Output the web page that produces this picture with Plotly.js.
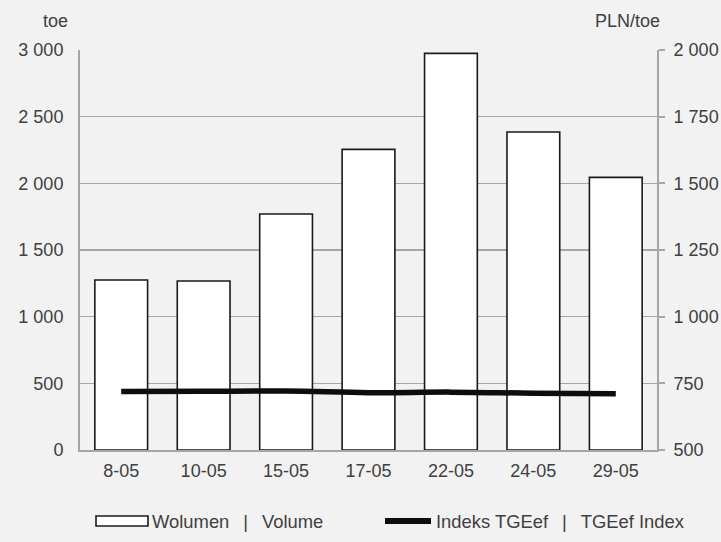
<!DOCTYPE html>
<html>
<head>
<meta charset="utf-8">
<script src="https://cdn.plot.ly/plotly-3.0.1.min.js"></script>
<style>html,body{margin:0;padding:0;background:#f2f2f2;}#chart{width:721px;height:542px;}</style>
</head>
<body>
<div id="chart"></div>
<script>
const categories = ["8-05", "10-05", "15-05", "17-05", "22-05", "24-05", "29-05"];
const volume = [1275, 1267, 1770, 2255, 2975, 2385, 2045];
const indexTGEef = [719, 720, 721, 715, 717, 713, 711];
const leftTicks = [0, 500, 1000, 1500, 2000, 2500, 3000];
const rightTicks = [500, 750, 1000, 1250, 1500, 1750, 2000];
const volumeName = "Wolumen\u00a0\u00a0\u2009|\u00a0\u00a0\u2009Volume";
const indexName = "Indeks TGEef\u00a0\u00a0\u2009|\u00a0\u00a0\u2009TGEef Index";

const font = {family: "Liberation Sans, Arial, sans-serif", size: 18, color: "#404040"};
const legendFont = {family: "Liberation Sans, Arial, sans-serif", size: 18.4, color: "#404040"};

const traces = [
  {
    type: "bar", x: categories, y: volume, name: volumeName,
    marker: {color: "#ffffff", line: {color: "#1a1a1a", width: 1.6}},
    yaxis: "y", hoverinfo: "none", showlegend: false
  },
  {
    type: "scatter", mode: "lines", x: categories, y: indexTGEef, name: indexName,
    line: {color: "#0d0d0d", width: 5.5, shape: "spline"},
    yaxis: "y2", hoverinfo: "none", showlegend: false
  }
];

// legend drawn in paper coordinates (plot area: x 80..657, y 50..450)
const px = v => (v - 80) / 577;
const py = v => (450 - v) / 400;

const layout = {
  width: 721, height: 542,
  paper_bgcolor: "#f2f2f2", plot_bgcolor: "#f2f2f2",
  font: font,
  separators: ", ",
  margin: {l: 80, r: 64, t: 50, b: 92},
  bargap: 0.36,
  showlegend: false,
  xaxis: {
    type: "category", showgrid: false, zeroline: false,
    showline: true, linecolor: "#a6a6a6", linewidth: 2,
    ticks: "", tickfont: font, ticklabelstandoff: 3
  },
  yaxis: {
    range: [0, 3000], tickvals: leftTicks, tickformat: ",d",
    showgrid: true, gridcolor: "#a6a6a6", gridwidth: 1.5,
    zeroline: false, showline: true, linecolor: "#a6a6a6", linewidth: 2,
    ticks: "", tickfont: font, ticklabelstandoff: 11
  },
  yaxis2: {
    overlaying: "y", side: "right",
    range: [500, 2000], tickvals: rightTicks, tickformat: ",d",
    showgrid: false, zeroline: false, showline: true, linecolor: "#a6a6a6", linewidth: 2,
    ticks: "outside", ticklen: 6, tickcolor: "#a6a6a6", tickwidth: 2,
    tickfont: font, ticklabelstandoff: 5
  },
  shapes: [
    {type: "rect", xref: "paper", yref: "paper", x0: px(96), x1: px(148), y0: py(526), y1: py(516),
     fillcolor: "#ffffff", line: {color: "#1a1a1a", width: 1.6}},
    {type: "line", xref: "paper", yref: "paper", x0: px(385), x1: px(431), y0: py(521), y1: py(521),
     line: {color: "#0d0d0d", width: 6}}
  ],
  annotations: [
    {text: "toe", xref: "paper", yref: "paper", x: px(55), y: py(21), xanchor: "center", yanchor: "middle", showarrow: false, font: font},
    {text: "PLN/toe", xref: "paper", yref: "paper", x: px(627), y: py(21), xanchor: "center", yanchor: "middle", showarrow: false, font: font},
    {text: volumeName, xref: "paper", yref: "paper", x: px(150), y: py(521), xanchor: "left", yanchor: "middle", showarrow: false, font: legendFont},
    {text: indexName, xref: "paper", yref: "paper", x: px(434), y: py(521), xanchor: "left", yanchor: "middle", showarrow: false, font: legendFont}
  ]
};

Plotly.newPlot("chart", traces, layout, {displayModeBar: false, staticPlot: true});
</script>
</body>
</html>
